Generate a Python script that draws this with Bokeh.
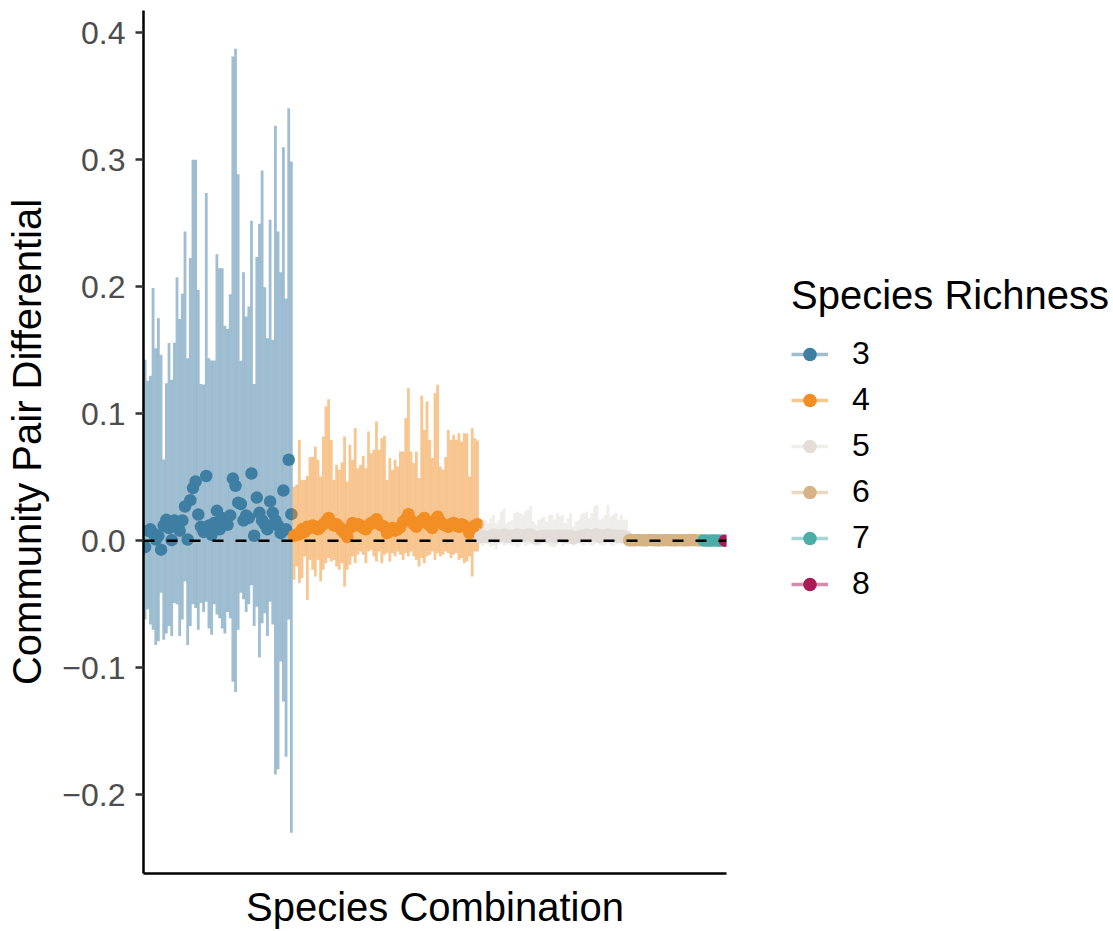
from bokeh.plotting import figure
from bokeh.models import (Range1d, Span, Legend, LegendItem, FixedTicker, ColumnDataSource,
                          CustomJSTickFormatter)
from bokeh.layouts import row
from bokeh.embed import file_html
from bokeh.resources import INLINE

FONT = "Liberation Sans"

richness_levels = ["3", "4", "5", "6", "7", "8"]
richness_colors = ["#3F7EA3", "#F28E23", "#E2DDD8", "#D5B384", "#4AAEA7", "#A91B57"]

mean_3 = [-0.005, 0.008, 0.009, 0.006, 0.001, 0.004, -0.007, 0.012,
          0.0165, 0.010, 0.0005, 0.016, 0.013, 0.008, 0.016, 0.027,
          0.001, 0.032, 0.0415, 0.0467, 0.0207, 0.011, 0.007, 0.051,
          0.012, 0.0047, 0.014, 0.0236, 0.009, 0.018, 0.015, 0.0126,
          0.020, 0.049, 0.0433, 0.030, 0.029, 0.016, 0.020, 0.018,
          0.053, 0.004, 0.034, 0.022, 0.016, 0.013, 0.009, 0.031,
          0.022, 0.016, 0.012, 0.006, 0.0396, 0.009, 0.0638, 0.021]
high_3 = [0.1425, 0.126, 0.130, 0.199, 0.1517, 0.1753, 0.1465, 0.064,
          0.124, 0.1557, 0.1268, 0.156, 0.2076, 0.1746, 0.1945, 0.2436,
          0.1438, 0.2226, 0.300, 0.300, 0.1976, 0.1234, 0.123, 0.2738,
          0.1438, 0.142, 0.142, 0.2257, 0.2147, 0.2147, 0.1693, 0.1667,
          0.1942, 0.3814, 0.3874, 0.2887, 0.1417, 0.2115, 0.1766, 0.1845,
          0.252, 0.1234, 0.2234, 0.2496, 0.2916, 0.1997, 0.1596, 0.2528,
          0.1583, 0.3268, 0.2436, 0.2115, 0.310, 0.1908, 0.3407, 0.2987]
low_3 = [-0.062, -0.054, -0.066, -0.070, -0.082, -0.079, -0.041, -0.078,
         -0.073, -0.067, -0.075, -0.049, -0.050, -0.075, -0.062, -0.032,
         -0.082, -0.067, -0.050, -0.053, -0.070, -0.049, -0.056, -0.048,
         -0.069, -0.074, -0.050, -0.058, -0.061, -0.069, -0.073, -0.056,
         -0.061, -0.111, -0.119, -0.070, -0.041, -0.046, -0.056, -0.050,
         -0.035, -0.067, -0.052, -0.092, -0.065, -0.057, -0.075, -0.048,
         -0.066, -0.184, -0.180, -0.095, -0.1265, -0.170, -0.062, -0.230]

mean_4 = [0.004, 0.005, 0.005, 0.009, 0.007, 0.011, 0.010, 0.012, 0.011, 0.009,
          0.011, 0.013, 0.015, 0.018, 0.014, 0.012, 0.013, 0.011, 0.008, 0.006,
          0.003, 0.010, 0.014, 0.012, 0.013, 0.012, 0.010, 0.009, 0.012, 0.014,
          0.015, 0.017, 0.013, 0.012, 0.011, 0.006, 0.009, 0.010, 0.008, 0.009,
          0.011, 0.015, 0.017, 0.021, 0.016, 0.013, 0.011, 0.014, 0.016, 0.018,
          0.014, 0.012, 0.010, 0.016, 0.019, 0.015, 0.013, 0.012, 0.011, 0.013,
          0.014, 0.012, 0.011, 0.013, 0.012, 0.010, 0.006, 0.009, 0.012, 0.013]
high_4 = [0.0428, 0.0443, 0.0795, 0.048, 0.048, 0.0512, 0.0659, 0.066, 0.0743, 0.0638,
          0.0506, 0.0821, 0.1058, 0.1115, 0.0795, 0.048, 0.0598, 0.0559, 0.0617, 0.0821,
          0.0467, 0.0756, 0.0638, 0.0887, 0.0572, 0.0598, 0.0669, 0.0572, 0.0861, 0.069,
          0.0717, 0.094, 0.0717, 0.0808, 0.0827, 0.048, 0.0651, 0.0559, 0.0638, 0.0585,
          0.0703, 0.0703, 0.0966, 0.1202, 0.0703, 0.0612, 0.0703, 0.0494, 0.1142, 0.0874,
          0.1097, 0.0795, 0.0651, 0.1163, 0.1228, 0.0585, 0.0559, 0.066, 0.0874, 0.0795,
          0.0835, 0.0795, 0.0848, 0.0782, 0.0848, 0.0845, 0.0506, 0.0887, 0.0808, 0.079]
low_4 = [-0.0307, -0.0202, -0.0333, -0.0294, -0.0123, -0.0465, -0.015, -0.0228, -0.0281, -0.015,
         -0.032, -0.0228, -0.0176, -0.0136, -0.0163, -0.015, -0.0202, -0.0228, -0.0176, -0.036,
         -0.0228, -0.0189, -0.0123, -0.0176, -0.011, -0.0084, -0.011, -0.0176, -0.0084, -0.0071,
         -0.0123, -0.0163, -0.0084, -0.0176, -0.011, -0.0097, -0.0163, -0.0097, -0.0123, -0.0084,
         -0.011, -0.015, -0.0097, -0.0123, -0.0084, -0.0123, -0.015, -0.0202, -0.0136, -0.0176,
         -0.0123, -0.011, -0.0084, -0.015, -0.0097, -0.0123, -0.011, -0.0084, -0.0097, -0.0136,
         -0.011, -0.0097, -0.015, -0.0136, -0.0176, -0.0163, -0.0123, -0.0281, -0.0084, -0.0084]

mean_5 = [0.003, 0.004, 0.003, 0.003, 0.004, 0.005, 0.003, 0.004,
          0.004, 0.005, 0.003, 0.003, 0.004, 0.004, 0.005, 0.004,
          0.004, 0.004, 0.005, 0.005, 0.003, 0.002, 0.003, 0.004,
          0.004, 0.003, 0.004, 0.004, 0.003, 0.004, 0.004, 0.004,
          0.003, 0.004, 0.004, 0.002, 0.003, 0.003, 0.004, 0.004,
          0.005, 0.004, 0.004, 0.005, 0.005, 0.003, 0.004, 0.004,
          0.005, 0.004, 0.004, 0.004, 0.003, 0.004, 0.003, 0.003]
high_5 = [0.010, 0.0152, 0.0165, 0.0139, 0.0178, 0.0205, 0.0139, 0.0165,
          0.0231, 0.0257, 0.0139, 0.0152, 0.0165, 0.0218, 0.0231, 0.0218,
          0.0205, 0.0231, 0.0244, 0.027, 0.0152, 0.0126, 0.0165, 0.0178,
          0.0192, 0.0152, 0.0205, 0.0205, 0.0165, 0.0218, 0.0192, 0.0205,
          0.0139, 0.0178, 0.0218, 0.0113, 0.0152, 0.0165, 0.0205, 0.0218,
          0.0231, 0.0178, 0.0218, 0.027, 0.0283, 0.0165, 0.0178, 0.0205,
          0.0283, 0.0192, 0.0205, 0.0218, 0.0165, 0.0205, 0.0165, 0.0165]
low_5 = [-0.003, -0.004, -0.002, -0.003, -0.005, -0.004, -0.0067, -0.003,
         -0.002, -0.004, -0.003, -0.002, -0.004, -0.003, -0.005, -0.003,
         -0.002, -0.004, -0.003, -0.002, -0.003, -0.004, -0.004, -0.003,
         -0.002, -0.003, -0.004, -0.005, -0.005, -0.003, -0.002, -0.004,
         -0.003, -0.003, -0.002, -0.004, -0.003, -0.002, -0.003, -0.004,
         -0.002, -0.003, -0.004, -0.003, -0.002, -0.003, -0.004, -0.003,
         -0.002, -0.003, -0.004, -0.003, -0.002, -0.003, -0.002, -0.003]

mean_6 = [0.0004, 0.0005, 0.0003, 0.0006, 0.0004, 0.0005, 0.0003,
          0.0004, 0.0006, 0.0005, 0.0004, 0.0003, 0.0005, 0.0004,
          0.0006, 0.0004, 0.0005, 0.0003, 0.0004, 0.0005, 0.0004,
          0.0003, 0.0005, 0.0004, 0.0006, 0.0004, 0.0003, 0.0004]
high_6 = [0.0025, 0.003, 0.002, 0.0035, 0.0055, 0.003, 0.0025,
          0.003, 0.004, 0.0035, 0.003, 0.005, 0.0035, 0.003,
          0.004, 0.003, 0.0035, 0.0025, 0.003, 0.0045, 0.003,
          0.0025, 0.0035, 0.005, 0.003, 0.0025, 0.003, 0.0025]
low_6 = [-0.0012, -0.0015, -0.001, -0.0014, -0.0018, -0.0012, -0.001,
         -0.0013, -0.0016, -0.0014, -0.0012, -0.0017, -0.0013, -0.0012,
         -0.0015, -0.0012, -0.0014, -0.001, -0.0012, -0.0016, -0.0012,
         -0.001, -0.0014, -0.0017, -0.0012, -0.001, -0.0012, -0.001]

mean_7 = [0.0002, 0.0003, 0.0001, 0.0002, 0.0003, 0.0002, 0.0001, 0.0002]
high_7 = [0.0012, 0.0015, 0.001, 0.0013, 0.0016, 0.0012, 0.001, 0.0011]
low_7 = [-0.0008, -0.0009, -0.0007, -0.0008, -0.001, -0.0008, -0.0007, -0.0008]

mean_8 = [0.0001]
high_8 = [0.0006]
low_8 = [-0.0004]

y_ticks = [-0.2, -0.1, 0, 0.1, 0.2, 0.3, 0.4]

groups = [(mean_3, low_3, high_3), (mean_4, low_4, high_4), (mean_5, low_5, high_5),
          (mean_6, low_6, high_6), (mean_7, low_7, high_7), (mean_8, low_8, high_8)]
n_total = sum(len(g[0]) for g in groups)

p = figure(frame_width=583, frame_height=863,
           min_border_left=143, min_border_right=34, min_border_top=10, min_border_bottom=58,
           x_range=Range1d(0.4, n_total + 0.6), y_range=Range1d(-0.262, 0.4176),
           output_backend="svg", toolbar_location=None)
p.xgrid.visible = False
p.ygrid.visible = False
p.outline_line_color = None
p.background_fill_color = "white"
p.border_fill_color = "white"

start = 1
for (m, lo, hi), col, lvl in zip(groups, richness_colors, richness_levels):
    xs = list(range(start, start + len(m)))
    start += len(m)
    src = ColumnDataSource(dict(x=xs, m=m, lo=lo, hi=hi))
    p.segment(x0="x", y0="lo", x1="x", y1="hi", source=src,
              line_color=col, line_alpha=0.5, line_width=2.8)
    p.scatter(x="x", y="m", source=src, size=12.5, fill_color=col, line_color=None)

p.add_layout(Span(location=0, dimension="width", line_color="black",
                  line_width=2.5, line_dash="11 12"))

# axes
p.xaxis.ticker = FixedTicker(ticks=[])
p.xaxis.axis_label = "Species Combination"
p.xaxis.major_tick_line_color = None
p.xaxis.minor_tick_line_color = None
p.xaxis.axis_line_width = 2.5
p.xaxis.axis_line_color = "black"
p.xaxis.axis_label_standoff = 11

p.yaxis.ticker = FixedTicker(ticks=y_ticks)
p.yaxis.formatter = CustomJSTickFormatter(code="return tick.toFixed(1).replace('-', '\\u2212');")
p.yaxis.axis_label = "Community Pair Differential"
p.yaxis.minor_tick_line_color = None
p.yaxis.major_tick_out = 8
p.yaxis.major_tick_in = 0
p.yaxis.major_tick_line_width = 2.5
p.yaxis.major_tick_line_color = "#333333"
p.yaxis.axis_line_width = 2.5
p.yaxis.axis_line_color = "black"
p.yaxis.major_label_standoff = 10
p.yaxis.axis_label_standoff = 10

for ax in (p.xaxis, p.yaxis):
    ax.axis_label_text_font = FONT
    ax.axis_label_text_font_size = "40px"
    ax.axis_label_text_font_style = "normal"
    ax.axis_label_text_color = "black"
    ax.major_label_text_font = FONT
    ax.major_label_text_font_size = "32px"
    ax.major_label_text_color = "#4D4D4D"

# legend panel (key glyphs come from off-screen stand-in renderers)
lf = figure(width=353, height=931, min_border=0, x_range=Range1d(0, 1), y_range=Range1d(0, 1),
            x_axis_type=None, y_axis_type=None, output_backend="svg", toolbar_location=None)
lf.outline_line_color = None
items = []
for col, lvl in zip(richness_colors, richness_levels):
    key_src = ColumnDataSource(dict(x=[-10, -11], y=[-10, -11]))
    lr = lf.line(x="x", y="y", source=key_src, line_color=col, line_alpha=0.5, line_width=3.3)
    sr = lf.scatter(x="x", y="y", source=key_src, size=12, fill_color=col, line_color=None)
    items.append(LegendItem(label=lvl, renderers=[lr, sr]))

legend = Legend(items=items, location=(31, 271), title="Species Richness",
                title_text_font=FONT, title_text_font_size="40px", title_text_font_style="normal",
                title_text_color="black", title_standoff=17,
                label_text_font=FONT, label_text_font_size="32px", label_text_color="black",
                glyph_width=37, glyph_height=34, label_height=34, label_standoff=24,
                spacing=9, padding=0, margin=0,
                border_line_color=None, background_fill_alpha=0)
lf.add_layout(legend)

layout = row(p, lf)
open("out.html", "w").write(file_html(layout, INLINE))
